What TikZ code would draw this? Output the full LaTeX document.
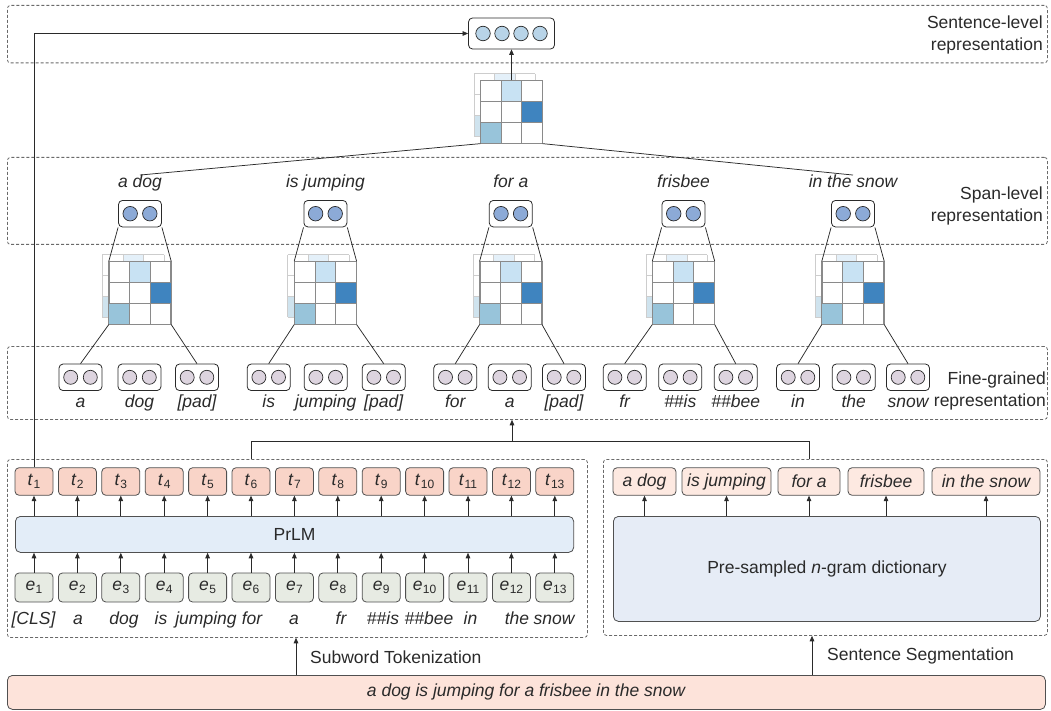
\documentclass[tikz,border=0pt]{standalone}
\usepackage{fontspec}
\setmainfont{Liberation Sans}
\usetikzlibrary{arrows.meta,calc}

\definecolor{ink}{HTML}{2A2A2A}
\definecolor{edge}{HTML}{505050}
\definecolor{zonegray}{HTML}{6A6A6A}
\definecolor{tfill}{HTML}{F9D4C8}
\definecolor{efill}{HTML}{E7EBE3}
\definecolor{prlmfill}{HTML}{E3EDF8}
\definecolor{dictfill}{HTML}{E6ECF6}
\definecolor{ngfill}{HTML}{FDE9E1}
\definecolor{sentfill}{HTML}{FDE3DA}
\definecolor{finedot}{HTML}{DDD4DF}
\definecolor{spandot}{HTML}{8CAAD7}
\definecolor{sentdot}{HTML}{B8D4E8}
\definecolor{cellpale}{HTML}{C8E2F3}
\definecolor{celldark}{HTML}{3F84BF}
\definecolor{cellmid}{HTML}{98C4DA}
\definecolor{gridline}{HTML}{8A8A8A}
\definecolor{ghostline}{HTML}{CDCDCD}
\definecolor{ghostpale}{HTML}{E4F0F9}
\definecolor{ghostmid}{HTML}{CFE3EE}

% italic letter with an upright subscript index
\newcommand\tk[2]{\textit{#1}\kern0.4pt\raisebox{-2.6pt}{\fontsize{12}{12}\selectfont #2}}

% 3x3 attention grid with a faded copy behind it; #1 name, (#2,#3) centre of the front grid
\newcommand\attnmap[3]{%
  \begin{scope}[shift={(#2,#3)}]
    \begin{scope}[shift={(-6.8,-7)}]
      \fill[white] (-30.75,-31.2) rectangle (30.75,31.2);
      \fill[ghostpale] (-10.25,-31.2) rectangle (10.25,-10.4);
      \fill[ghostmid] (-30.75,10.4) rectangle (-10.25,31.2);
      \foreach \gx in {-30.75,-10.25,10.25,30.75}
        \draw[ghostline,line width=0.8pt] (\gx,-31.2) -- (\gx,31.2);
      \foreach \gy in {-31.2,-10.4,10.4,31.2}
        \draw[ghostline,line width=0.8pt] (-30.75,\gy) -- (30.75,\gy);
    \end{scope}
    \node[mapframe] (#1) at (0,0) {};
    \fill[cellpale] (-10.25,-31.2) rectangle (10.25,-10.4);
    \fill[celldark] (10.25,-10.4) rectangle (30.75,10.4);
    \fill[cellmid] (-30.75,10.4) rectangle (-10.25,31.2);
    \foreach \gx in {-10.25,10.25}
      \draw[gridline,line width=0.9pt] (\gx,-31.2) -- (\gx,31.2);
    \foreach \gy in {-10.4,10.4}
      \draw[gridline,line width=0.9pt] (-30.75,\gy) -- (30.75,\gy);
    \draw[gridline,line width=0.9pt] (#1.north west) rectangle (#1.south east);
  \end{scope}}

% rounded box holding a pair of circles; #1 name, (#2,#3) centre, #4 circle style
\newcommand\pairnode[4]{%
  \node[vecbox] (#1) at (#2,#3) {};
  \node[#4] (#1-l) at ($(#1)+(-9.8,0)$) {};
  \node[#4] (#1-r) at ($(#1)+(9.8,0)$) {};}

\begin{document}
\begin{tikzpicture}[x=1pt,y=-1pt,
  font=\fontsize{17.5}{22}\selectfont, text=ink,
  zone/.style={draw=zonegray, line width=0.8pt, dash pattern=on 3pt off 2pt,
    rounded corners=3pt, anchor=north west, inner sep=0pt},
  tokbox/.style={draw=edge, line width=0.8pt, rounded corners=4pt,
    minimum width=38pt, inner sep=0pt},
  tbox/.style={tokbox, fill=tfill, minimum height=27.5pt},
  ebox/.style={tokbox, fill=efill, minimum height=29pt},
  ngbox/.style={draw=edge, line width=0.8pt, rounded corners=4pt, fill=ngfill,
    minimum height=27.5pt, inner sep=0pt, font=\fontsize{17.5}{22}\selectfont\itshape},
  bigbox/.style={draw=edge, line width=0.8pt, rounded corners=5pt, inner sep=0pt},
  vecbox/.style={draw=ink, line width=0.8pt, rounded corners=4pt,
    minimum width=43pt, minimum height=26.5pt, inner sep=0pt},
  finedot/.style={circle, draw=ink, line width=0.7pt, fill=finedot,
    minimum size=14pt, inner sep=0pt},
  spandot/.style={circle, draw=ink, line width=0.7pt, fill=spandot,
    minimum size=14.5pt, inner sep=0pt},
  sentdot/.style={circle, draw=ink, line width=0.7pt, fill=sentdot,
    minimum size=14.5pt, inner sep=0pt},
  mapframe/.style={minimum width=61.5pt, minimum height=62.4pt, inner sep=0pt,
    fill=white, draw=gridline, line width=0.9pt},
  wordlbl/.style={inner sep=0pt, text height=12.5pt, text depth=3.6pt,
    font=\fontsize{17.5}{22}\selectfont\itshape},
  sidelbl/.style={anchor=east, align=right, inner sep=0pt},
  arr/.style={draw=ink, line width=0.75pt, -{Triangle[length=5.5pt,width=4.6pt]}},
  link/.style={draw=ink, line width=0.75pt}]

\useasboundingbox (0,0) rectangle (1051,711);

% ---- dashed regions ----
\node[zone, minimum width=1040pt, minimum height=57.5pt] (topzone) at (7,5) {};
\node[zone, minimum width=1040pt, minimum height=87pt] (spanzone) at (7,157) {};
\node[zone, minimum width=1040pt, minimum height=73pt] (finezone) at (7,346) {};
\node[zone, minimum width=580pt, minimum height=178pt] (lzone) at (7,459) {};
\node[zone, minimum width=444pt, minimum height=176pt] (rzone) at (603,459) {};

% ---- side captions ----
\node[sidelbl] (cap-sent) at (1043,34.5) {Sentence-level\\representation};
\node[sidelbl] (cap-span) at (1043,206) {Span-level\\representation};
\node[sidelbl] (cap-fine) at (1046,391) {Fine-grained\\representation};

% ---- input sentence ----
\node[bigbox, fill=sentfill, anchor=north west, minimum width=1038pt,
  minimum height=34pt] (input) at (7,675) {};
\node[wordlbl] (input-text) at (526,692) {a dog is jumping for a frisbee in the snow};

\coordinate (tokx) at (296,0);
\coordinate (segx) at (812,0);
\draw[arr] (input.north -| tokx) -- (tokx |- lzone.south);
\draw[arr] (input.north -| segx) -- (segx |- rzone.south);
\node[anchor=west, inner sep=0pt] (cap-tok) at (310,657) {Subword Tokenization};
\node[anchor=west, inner sep=0pt] (cap-seg) at (827,656) {Sentence Segmentation};

% ---- subword branch: embeddings, PrLM, token states ----
\node[bigbox, fill=prlmfill, anchor=north west, minimum width=558.3pt,
  minimum height=36pt] (prlm) at (15,516) {PrLM};
\foreach \i in {1,...,13} {
  \pgfmathsetmacro\cx{34+43.4*(\i-1)}
  \node[tbox] (t\i) at (\cx,481.5) {\tk{t}{\i}};
  \node[ebox] (e\i) at (\cx,587.5) {\tk{e}{\i}};
  \draw[arr] (t\i.south |- prlm.north) -- (t\i.south);
  \draw[arr] (e\i.north) -- (e\i.north |- prlm.south);
}
\foreach \x/\w [count=\i] in {33.5/[CLS], 78/a, 124/dog, 161/is, 206/jumping,
    252/for, 294/a, 341/fr, 383/\#\#is, 429/\#\#bee, 470.5/in, 517/the, 554/snow}
  \node[wordlbl] (w\i) at (\x,620) {\w};

% ---- segmentation branch: n-gram dictionary ----
\node[bigbox, fill=dictfill, anchor=north west, minimum width=427pt,
  minimum height=105pt] (dict) at (613,516) {Pre-sampled \textit{n}-gram dictionary};
\foreach \x/\bw/\w [count=\i] in {644.5/63/a dog, 726.5/89/is jumping,
    809/62/for a, 886/76/frisbee, 986/108/in the snow} {
  \node[ngbox, minimum width=\bw pt] (g\i) at (\x,481.5) {\w};
  \draw[arr] (g\i.south |- dict.north) -- (g\i.south);
}

% ---- merge into the fine-grained level ----
\coordinate (jl) at (251.7,441);
\coordinate (jr) at (809,441);
\coordinate (jm) at (512,441);
\draw[link] (jl |- lzone.north) -- (jl) -- (jr) -- (jr |- rzone.north);
\draw[arr] (jm) -- (jm |- finezone.south);

% ---- fine-grained representations ----
\foreach \x/\w [count=\i] in {80.5/a, 139.5/dog, 197/[pad], 268.7/is, 325.7/jumping,
    383.7/[pad], 455.3/for, 509.7/a, 564/[pad], 624.7/fr, 680.3/\#\#is,
    735.7/\#\#bee, 798/in, 853.7/the, 908/snow} {
  \pairnode{f\i}{\x}{377.3}{finedot}
  \node[wordlbl] (fl\i) at (\x,403) {\w};
}

% ---- span-level representations ----
\foreach \x/\w/\fa/\fb [count=\i] in {140/a dog/1/3, 325.4/is jumping/4/6,
    510.8/for a/7/9, 683.5/frisbee/10/12, 853/in the snow/13/15} {
  \node[wordlbl] (sl\i) at (\x,183.3) {\w};
  \pairnode{s\i}{\x}{213.7}{spandot}
  \attnmap{m\i}{\x}{292.9}
  \draw[link] (s\i.south west) -- (m\i.north west);
  \draw[link] (s\i.south east) -- (m\i.north east);
  \draw[link] (m\i.south west) -- (f\fa.north);
  \draw[link] (m\i.south east) -- (f\fb.north);
}

% ---- sentence-level representation ----
\attnmap{m0}{511.5}{112}
\node[vecbox, minimum width=86pt, minimum height=31pt] (sent) at (511.5,33.5) {};
\foreach \d [count=\k] in {-28.5,-9.5,9.5,28.5}
  \node[sentdot] (sent-\k) at ($(sent)+(\d,0)$) {};
\draw[arr] (m0.north) -- (sent.south);
\draw[link] (m0.south west) -- (sl1.north);
\draw[link] (m0.south east) -- (sl5.north);
\draw[arr] (t1.north) |- (sent.west);

\end{tikzpicture}
\end{document}
